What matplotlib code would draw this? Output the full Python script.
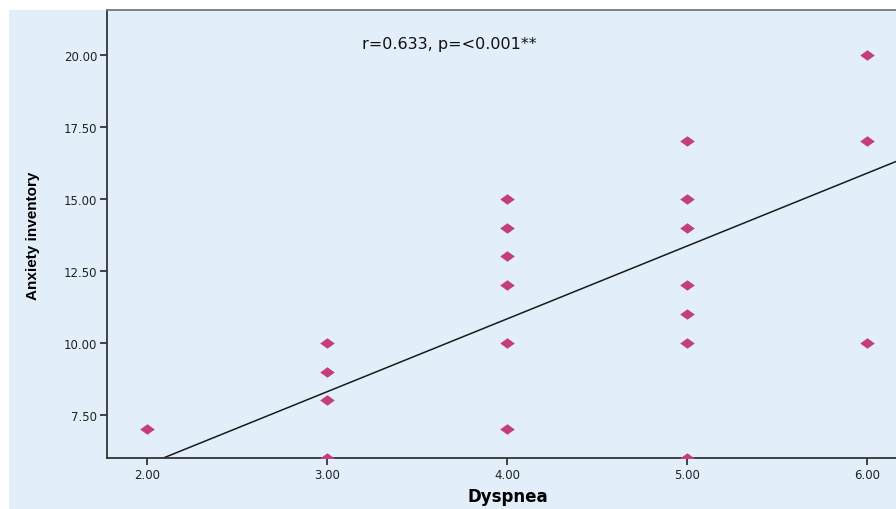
import numpy as np
import matplotlib
matplotlib.use('Agg')
import matplotlib.pyplot as plt
from matplotlib.patches import Rectangle

# Dyspnea vs anxiety inventory scores
dyspnea = [2, 3, 3, 3, 3, 4, 4, 4, 4, 4, 4, 5, 5, 5, 5, 5, 5, 5, 6, 6, 6]
anxiety = [7, 10, 9, 8, 6, 15, 14, 13, 12, 10, 7, 17, 15, 14, 12, 11, 10, 6, 20, 17, 10]

# fit line as drawn on the chart
fit_intercept = 0.71
fit_slope = 2.53

x_ticks = [2, 3, 4, 5, 6]
y_ticks = [7.5, 10, 12.5, 15, 17.5, 20]
note = "r=0.633, p=<0.001**"

bg = '#e2eefa'
pink = '#c23f7b'

fig = plt.figure(figsize=(8.96, 5.10), dpi=100)
fig.patch.set_facecolor('white')
fig.patches.append(Rectangle((9 / 896, 0), 1, 1 - 11 / 510, transform=fig.transFigure,
                             facecolor=bg, edgecolor='none', zorder=-10))

# axes runs past the right edge of the picture, like the cropped original
ax = fig.add_axes([107 / 896, 51 / 510, 830 / 896, 448 / 510])
ax.set_facecolor(bg)
ax.set_xlim(1.778, 1.778 + 830 / 180)
ax.set_ylim(6.0, 21.56)

diamond = [(-1, 0), (0, 0.72), (1, 0), (0, -0.72), (-1, 0)]
ax.plot(dyspnea, anxiety, ls='none', marker=diamond, markersize=10.5,
        color=pink, markeredgewidth=0, clip_on=True, zorder=3)

xs = np.array(ax.get_xlim())
ax.plot(xs, fit_intercept + fit_slope * xs, color='#1a1a1a', lw=1.1, zorder=2)

ax.set_xticks(x_ticks)
ax.set_xticklabels([f'{v:.2f}' for v in x_ticks])
ax.set_yticks(y_ticks)
ax.set_yticklabels([f'{v:.2f}' for v in y_ticks])
ax.tick_params(direction='out', length=5, width=1.3, color='#333333',
               labelsize=8.5, labelcolor='#222222', pad=2)

for s in ['left', 'bottom']:
    ax.spines[s].set_color('#333333')
    ax.spines[s].set_linewidth(1.3)
ax.spines['top'].set_color('#777777')
ax.spines['top'].set_linewidth(1.3)
ax.spines['right'].set_visible(False)

ax.set_xlabel('Dyspnea', fontsize=12, fontweight='bold', family='DejaVu Sans')
ax.xaxis.set_label_coords((508 - 107) / 830, -(497 - 459) / 448)
ax.xaxis.label.set_va('center')
ax.set_ylabel('Anxiety inventory', fontsize=11, fontweight='bold',
              family='Liberation Sans')
ax.yaxis.set_label_coords(-(107 - 33) / 830, (459 - 236) / 448)
ax.yaxis.label.set_va('center')

fig.text(362 / 896, 1 - 44 / 510, note, fontsize=11.5, va='center', ha='left',
         family='DejaVu Sans', color='#111111')

fig.savefig('out.png', dpi=100)
